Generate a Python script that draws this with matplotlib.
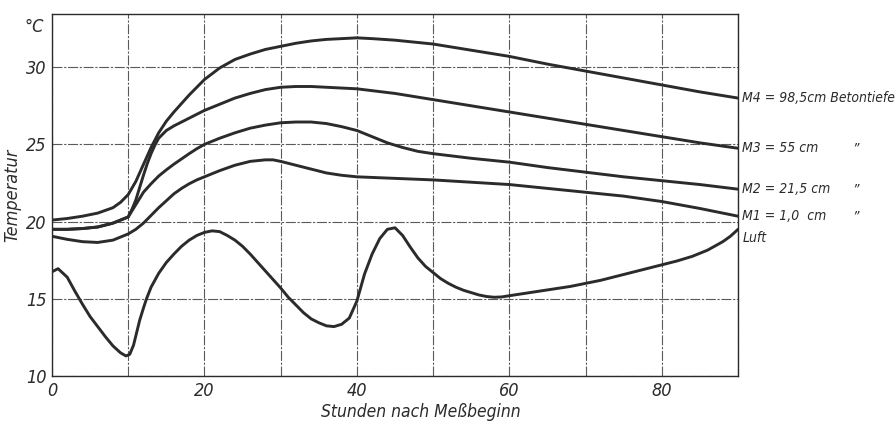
import matplotlib
matplotlib.use("Agg")
import matplotlib.pyplot as plt
from matplotlib import font_manager
from matplotlib.font_manager import FontProperties

# ---------------- data ----------------
hours_luft = [0, 0.8, 2, 3, 4, 5, 6, 7, 8, 9, 9.7, 10.2, 10.7, 11, 11.5, 12, 12.4, 13, 14, 15, 16,
              17, 18, 19, 20, 21, 22, 23, 24, 25, 26, 27, 28, 29, 30, 31, 32, 33, 34, 35,
              36, 37, 38, 39, 40, 41, 42, 43, 44, 45, 46, 47, 48, 49, 50, 51, 52, 53, 54,
              55, 56, 57, 58, 59, 60, 62, 64, 66, 68, 70, 72, 74, 76, 78, 80, 82, 84, 86,
              88, 89, 90]
temp_luft = [16.75, 16.95, 16.4, 15.5, 14.65, 13.85, 13.2, 12.55, 11.95, 11.5, 11.3, 11.4, 12.0, 12.6, 13.6, 14.4, 15.0, 15.75, 16.65, 17.35, 17.9,
             18.4, 18.8, 19.1, 19.3, 19.4, 19.35, 19.1, 18.8, 18.4, 17.9, 17.35, 16.8, 16.25, 15.7, 15.1, 14.6, 14.1, 13.7, 13.45,
             13.25, 13.2, 13.35, 13.75, 14.85, 16.6, 17.9, 18.9, 19.5, 19.6, 19.1, 18.35, 17.65, 17.1, 16.7, 16.3, 16.0, 15.75, 15.55,
             15.4, 15.25, 15.15, 15.1, 15.12, 15.2, 15.35, 15.5, 15.65, 15.8, 16.0, 16.2, 16.45, 16.7, 16.95, 17.2, 17.45, 17.75, 18.15,
             18.7, 19.05, 19.5]

hours_m1 = [0, 2, 4, 6, 8, 10, 11, 12, 13, 14, 15, 16, 17, 18, 19, 20, 22, 24, 26, 28, 29, 30,
            32, 34, 36, 38, 40, 45, 50, 55, 60, 65, 70, 75, 80, 85, 90]
temp_m1 = [19.05, 18.85, 18.7, 18.65, 18.8, 19.2, 19.5, 19.9, 20.4, 20.9, 21.35, 21.8, 22.15, 22.45, 22.7, 22.9, 23.3, 23.65, 23.9, 24.0, 24.0, 23.9,
           23.65, 23.4, 23.15, 23.0, 22.9, 22.8, 22.7, 22.55, 22.4, 22.15, 21.9, 21.65, 21.3, 20.85, 20.35]

hours_m2 = [0, 2, 4, 6, 8, 10, 10.5, 11, 11.5, 12, 13, 14, 15, 16, 17, 18, 19, 20, 22, 24, 26, 28,
            30, 32, 34, 36, 38, 40, 42, 44, 46, 48, 50, 55, 60, 65, 70, 75, 80, 85, 90]
temp_m2 = [19.5, 19.5, 19.55, 19.65, 19.9, 20.3, 20.7, 21.1, 21.5, 21.9, 22.45, 22.95, 23.35, 23.72, 24.06, 24.4, 24.72, 25.0, 25.4, 25.75, 26.05, 26.25,
           26.4, 26.45, 26.45, 26.35, 26.15, 25.9, 25.5, 25.1, 24.8, 24.55, 24.4, 24.1, 23.85, 23.5, 23.2, 22.9, 22.65, 22.4, 22.1]

hours_m3 = [0, 2, 4, 6, 8, 10, 10.5, 11, 11.5, 12, 12.5, 13, 13.5, 14, 15, 16, 17, 18, 19, 20, 22, 24,
            26, 28, 30, 32, 34, 36, 38, 40, 45, 50, 55, 60, 65, 70, 75, 80, 85, 90]
temp_m3 = [19.5, 19.5, 19.55, 19.65, 19.9, 20.3, 20.8, 21.4, 22.2, 23.0, 23.75, 24.4, 24.95, 25.4, 25.9, 26.2, 26.45, 26.7, 26.95, 27.2, 27.6, 28.0,
           28.3, 28.55, 28.7, 28.75, 28.75, 28.7, 28.65, 28.6, 28.3, 27.9, 27.5, 27.1, 26.7, 26.3, 25.9, 25.5, 25.1, 24.75]

hours_m4 = [0, 2, 4, 6, 8, 9, 10, 11, 12, 13, 14, 15, 16, 17, 18, 19, 20, 22, 24, 26, 28, 30,
            32, 34, 36, 38, 40, 42, 45, 50, 55, 60, 65, 70, 75, 80, 85, 90]
temp_m4 = [20.1, 20.2, 20.35, 20.55, 20.9, 21.25, 21.75, 22.6, 23.7, 24.8, 25.75, 26.5, 27.1, 27.65, 28.2, 28.7, 29.2, 29.95, 30.5, 30.85, 31.15, 31.35,
           31.55, 31.7, 31.8, 31.85, 31.9, 31.85, 31.75, 31.5, 31.1, 30.7, 30.2, 29.75, 29.3, 28.85, 28.4, 28.0]

series_labels = ["M4 = 98,5cm Betontiefe", "M3 = 55 cm", "M2 = 21,5 cm", "M1 = 1,0  cm", "Luft"]
ditto_marks = ["", "\u201d", "\u201d", "\u201d", ""]

x_ticks = [0, 10, 20, 30, 40, 50, 60, 70, 80, 90]
x_tick_labels = ["0", "", "20", "", "40", "", "60", "", "80", ""]
y_ticks = [10, 15, 20, 25, 30]
y_tick_labels = ["10", "15", "20", "25", "30"]

x_label = "Stunden nach Meßbeginn"
y_label = "Temperatur"
unit_label = "°C"

# ---------------- font: look for a narrow / condensed face ----------------
def pick_font():
    best = None
    for f in font_manager.fontManager.ttflist:
        n = f.fname.lower()
        narrow = ("narrow" in n) or ("condensed" in n) or (str(f.stretch) in ("condensed", "semi-condensed", "extra-condensed")) \
            or (isinstance(f.stretch, int) and f.stretch < 500)
        if not narrow:
            continue
        if "bold" in n or f.weight in ("bold", 700, "semibold", 600):
            continue
        score = 0
        if f.style in ("italic", "oblique") or "italic" in n or "oblique" in n:
            score += 2
        if "dejavu" in n:
            score += 1
        if "mono" in n or "serif" in n.replace("sans", ""):
            score -= 3
        if best is None or score > best[0]:
            best = (score, f.fname, f.style)
    return best

found = pick_font()
if found is not None:
    base_fp = FontProperties(fname=found[1])
    size_k = 1.0
else:
    base_fp = FontProperties(family="DejaVu Sans", style="italic")
    size_k = 0.82


def fp(size):
    p = base_fp.copy()
    p.set_size(size * size_k)
    if not found:
        p.set_style("italic")
    return p

ink = "#2b2b2b"
grid_c = "#5a5a5a"

fig = plt.figure(figsize=(8.96, 4.22), dpi=100)
ax = fig.add_axes([0.058, 0.109, 0.7657, 0.858])

ax.set_xlim(0, 90)
ax.set_ylim(10, 33.45)

ax.set_xticks(x_ticks)
ax.set_xticklabels(x_tick_labels, color=ink)
ax.set_yticks(y_ticks)
ax.set_yticklabels(y_tick_labels, color=ink)
for lbl in ax.get_xticklabels() + ax.get_yticklabels():
    lbl.set_fontproperties(fp(13))
ax.tick_params(length=0, pad=4)

ax.grid(True, color=grid_c, linewidth=0.8, linestyle=(0, (9, 1.5, 2, 1.5)))
ax.set_axisbelow(True)
for s in ax.spines.values():
    s.set_color(ink)
    s.set_linewidth(1.0)

all_series = [(hours_m4, temp_m4), (hours_m3, temp_m3), (hours_m2, temp_m2),
              (hours_m1, temp_m1), (hours_luft, temp_luft)]
for hx, ty in all_series:
    ax.plot(hx, ty, color=ink, linewidth=2.1, solid_capstyle="round", solid_joinstyle="round")

# right-hand labels
label_offsets = [0, 0, 0, 0, -6]
for (hx, ty), lab, dm, dy in zip(all_series, series_labels, ditto_marks, label_offsets):
    ax.annotate(lab, xy=(hx[-1], ty[-1]), xytext=(3, dy), textcoords="offset points",
                ha="left", va="center", fontproperties=fp(10), color=ink,
                annotation_clip=False)
    if dm:
        ax.annotate(dm, xy=(hx[-1], ty[-1]), xytext=(82, dy), textcoords="offset points",
                    ha="left", va="center", fontproperties=fp(10), color=ink,
                    annotation_clip=False)

ax.set_ylabel(y_label, fontproperties=fp(13), color=ink, labelpad=3)
ax.set_xlabel(x_label, fontproperties=fp(12.5), color=ink)
ax.xaxis.set_label_coords(0.538, -0.075)
ax.text(-0.012, 0.965, unit_label, transform=ax.transAxes, ha="right", va="center",
        fontproperties=fp(13), color=ink)

fig.savefig("out.png", dpi=100)
